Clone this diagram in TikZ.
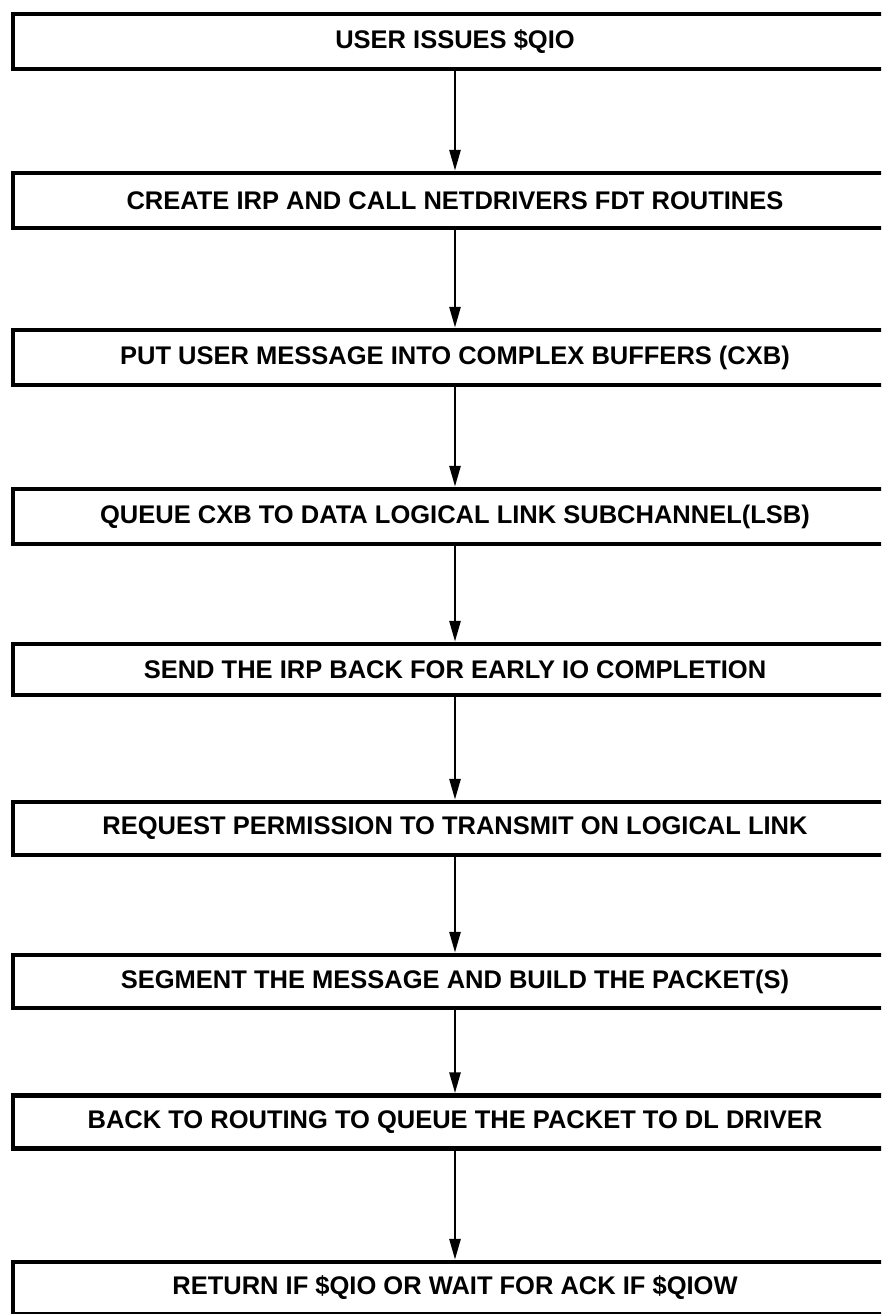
\documentclass[tikz,border=0pt]{standalone}
\usepackage{fontspec}
\setmainfont{Liberation Sans}
\usetikzlibrary{arrows.meta}
\tikzset{
  stepbox/.style={draw,rectangle,line width=4.5pt,minimum width=884pt,minimum height=55pt,inner sep=0pt,font=\fontsize{25.5}{29}\selectfont\bfseries},
  flow/.style={-{Triangle[length=21pt,width=11pt]},line width=2.8pt},
}
\begin{document}
\begin{tikzpicture}[x=1pt,y=-1pt]
\useasboundingbox (0,0) rectangle (881,1314);
\clip (0,0) rectangle (881,1314);
% steps
\node[stepbox] (qio)  at (455,41.5)  {USER ISSUES \$QIO};
\node[stepbox] (irp)  at (455,200.5) {CREATE IRP AND CALL NETDRIVERS FDT ROUTINES};
\node[stepbox] (cxb)  at (455,357.5) {PUT USER MESSAGE INTO COMPLEX BUFFERS (CXB)};
\node[stepbox] (lsb)  at (455,516.5) {QUEUE CXB TO DATA LOGICAL LINK SUBCHANNEL(LSB)};
\node[stepbox,minimum height=51pt] (early) at (455,669.5) {SEND THE IRP BACK FOR EARLY IO COMPLETION};
\node[stepbox,minimum height=53pt] (perm) at (455,828.5) {REQUEST PERMISSION TO TRANSMIT ON LOGICAL LINK};
\node[stepbox,minimum height=53pt] (seg)  at (455,981.5) {SEGMENT THE MESSAGE AND BUILD THE PACKET(S)};
\node[stepbox,minimum height=53pt] (dl)   at (455,1122)  {BACK TO ROUTING TO QUEUE THE PACKET TO DL DRIVER};
\node[stepbox,minimum height=52pt] (ret)  at (455,1288)  {RETURN IF \$QIO OR WAIT FOR ACK IF \$QIOW};
% arrows
\foreach \a/\b in {qio/irp,irp/cxb,cxb/lsb,lsb/early,early/perm,perm/seg,seg/dl,dl/ret}
  \draw[flow] (\a) -- (\b);
\end{tikzpicture}
\end{document}
